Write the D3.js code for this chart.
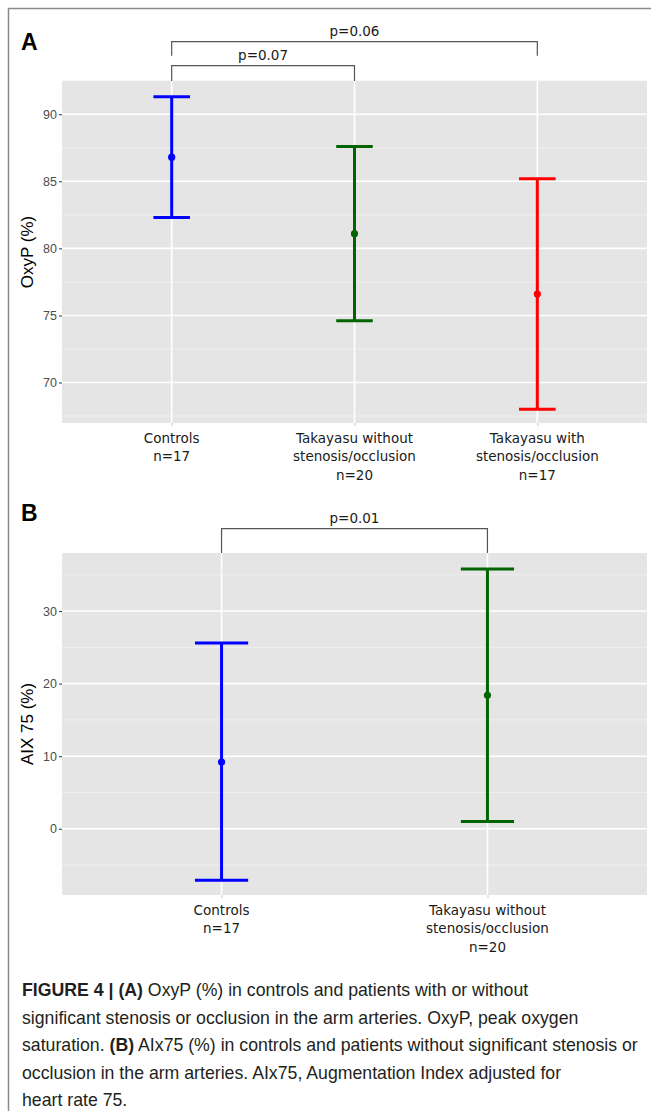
<!DOCTYPE html>
<html>
<head>
<meta charset="utf-8">
<script src="https://cdn.jsdelivr.net/npm/d3@7"></script>
<style>
  html, body { margin: 0; padding: 0; background: #fff; }
  svg { display: block; }
</style>
</head>
<body>
<svg id="chart" width="651" height="1111"></svg>
<script>
// ---------- data ----------
const groupsA = ["Controls", "Takayasu without", "Takayasu with"];
const labelsA = [["Controls", "n=17"], ["Takayasu without", "stenosis/occlusion", "n=20"], ["Takayasu with", "stenosis/occlusion", "n=17"]];
const meanA = [86.8, 81.1, 76.6];
const lowerA = [82.3, 74.6, 68.0];
const upperA = [91.3, 87.6, 85.2];
const colorsA = ["#0000ff", "#006400", "#ff0000"];
const ticksA = [70, 75, 80, 85, 90];
const minorA = [67.5, 72.5, 77.5, 82.5, 87.5, 92.5];

const groupsB = ["Controls", "Takayasu without"];
const labelsB = [["Controls", "n=17"], ["Takayasu without", "stenosis/occlusion", "n=20"]];
const meanB = [9.2, 18.4];
const lowerB = [-7.1, 1.0];
const upperB = [25.6, 35.8];
const colorsB = ["#0000ff", "#006400"];
const ticksB = [0, 10, 20, 30];
const minorB = [-5, 5, 15, 25, 35];

const pvalA = [
  { from: "Controls", to: "Takayasu with", label: "p=0.06", level: 1 },
  { from: "Controls", to: "Takayasu without", label: "p=0.07", level: 0 }
];
const pvalB = [
  { from: "Controls", to: "Takayasu without", label: "p=0.01", level: 0 }
];

const captionLines = [
  [["FIGURE 4 | (A)", true], [" OxyP (%) in controls and patients with or without", false]],
  [["significant stenosis or occlusion in the arm arteries. OxyP, peak oxygen", false]],
  [["saturation. ", false], ["(B)", true], [" AIx75 (%) in controls and patients without significant stenosis or", false]],
  [["occlusion in the arm arteries. AIx75, Augmentation Index adjusted for", false]],
  [["heart rate 75.", false]]
];

// ---------- drawing ----------
const svg = d3.select("#chart");
svg.append("rect").attr("width", 651).attr("height", 1111).attr("fill", "#fff");

svg.append("path").attr("d", "M8.5,1111 V8.5 H651")
  .attr("fill", "none").attr("stroke", "#8a8a8a").attr("stroke-width", 1.5);

function drawPanel(cfg) {
  const g = svg.append("g");
  const x = d3.scalePoint().domain(cfg.groups).range([cfg.left, cfg.right]).padding(0.6);
  const y = d3.scaleLinear().domain(cfg.domain).range([cfg.bottom, cfg.top]);
  const step = x.step();

  g.append("rect").attr("x", cfg.left).attr("y", cfg.top)
    .attr("width", cfg.right - cfg.left).attr("height", cfg.bottom - cfg.top)
    .attr("fill", "#e5e5e5");

  g.selectAll(".minor").data(cfg.minor).join("line")
    .attr("x1", cfg.left).attr("x2", cfg.right)
    .attr("y1", d => y(d)).attr("y2", d => y(d))
    .attr("stroke", "#f2f2f2").attr("stroke-width", 0.8);
  g.selectAll(".major").data(cfg.ticks).join("line")
    .attr("x1", cfg.left).attr("x2", cfg.right)
    .attr("y1", d => y(d)).attr("y2", d => y(d))
    .attr("stroke", "#ffffff").attr("stroke-width", 1.6);
  g.selectAll(".vmajor").data(cfg.groups).join("line")
    .attr("x1", d => x(d)).attr("x2", d => x(d))
    .attr("y1", cfg.top).attr("y2", cfg.bottom)
    .attr("stroke", "#ffffff").attr("stroke-width", 1.6);

  const yAxis = d3.axisLeft(y).tickValues(cfg.ticks).tickSize(3).tickPadding(2);
  const ya = g.append("g").attr("transform", `translate(${cfg.left},0)`).call(yAxis);
  ya.select(".domain").remove();
  ya.selectAll("line").attr("stroke", "#333").attr("stroke-width", 1);
  ya.selectAll("text").attr("font-family", "Liberation Sans, Arial, sans-serif")
    .attr("font-size", 12.5).attr("fill", "#4d4d4d");

  const xAxis = d3.axisBottom(x).tickSize(3).tickFormat("");
  const xa = g.append("g").attr("transform", `translate(0,${cfg.bottom})`).call(xAxis);
  xa.select(".domain").remove();
  xa.selectAll("line").attr("stroke", "#c8c8c8").attr("stroke-width", 1);

  cfg.groups.forEach((grp, i) => {
    const t = g.append("text")
      .attr("x", x(grp)).attr("y", cfg.bottom + 19.5)
      .attr("text-anchor", "middle")
      .attr("font-family", "DejaVu Sans, Verdana, sans-serif")
      .attr("font-size", 13.5).attr("fill", "#1a1a1a");
    cfg.labels[i].forEach((line, j) => {
      t.append("tspan").attr("x", x(grp)).attr("dy", j === 0 ? 0 : 18.5).text(line);
    });
  });

  g.append("text")
    .attr("transform", `translate(${cfg.titleX},${(cfg.top + cfg.bottom) / 2}) rotate(-90)`)
    .attr("text-anchor", "middle")
    .attr("font-family", "Liberation Sans, Arial, sans-serif")
    .attr("font-size", 17).attr("fill", "#000")
    .text(cfg.title);

  const capW = step * 0.1;
  const bars = g.selectAll(".eb").data(cfg.groups).join("g");
  bars.append("line")
    .attr("x1", d => x(d)).attr("x2", d => x(d))
    .attr("y1", (d, i) => y(cfg.lower[i])).attr("y2", (d, i) => y(cfg.upper[i]))
    .attr("stroke", (d, i) => cfg.colors[i]).attr("stroke-width", 3);
  bars.append("line")
    .attr("x1", d => x(d) - capW).attr("x2", d => x(d) + capW)
    .attr("y1", (d, i) => y(cfg.upper[i])).attr("y2", (d, i) => y(cfg.upper[i]))
    .attr("stroke", (d, i) => cfg.colors[i]).attr("stroke-width", 3);
  bars.append("line")
    .attr("x1", d => x(d) - capW).attr("x2", d => x(d) + capW)
    .attr("y1", (d, i) => y(cfg.lower[i])).attr("y2", (d, i) => y(cfg.lower[i]))
    .attr("stroke", (d, i) => cfg.colors[i]).attr("stroke-width", 3);
  bars.append("circle")
    .attr("cx", d => x(d)).attr("cy", (d, i) => y(cfg.mean[i])).attr("r", 3.6)
    .attr("fill", (d, i) => cfg.colors[i]);

  cfg.pvals.forEach(p => {
    const x1 = x(p.from), x2 = x(p.to);
    const yb = cfg.bracketY[p.level], yd = cfg.bracketBottom[p.level];
    g.append("path")
      .attr("d", `M${x1},${yd} V${yb} H${x2} V${yd}`)
      .attr("fill", "none").attr("stroke", "#555").attr("stroke-width", 1.2);
    g.append("text")
      .attr("x", (x1 + x2) / 2).attr("y", yb - 6)
      .attr("text-anchor", "middle")
      .attr("font-family", "DejaVu Sans, Verdana, sans-serif")
      .attr("font-size", 13.5).attr("fill", "#1a1a1a")
      .text(p.label);
  });

  svg.append("text").attr("x", 21).attr("y", cfg.letterY)
    .attr("font-family", "Liberation Sans, Arial, sans-serif")
    .attr("font-weight", "bold").attr("font-size", 23).attr("fill", "#000")
    .text(cfg.letter);
}

drawPanel({
  groups: groupsA, labels: labelsA, mean: meanA, lower: lowerA, upper: upperA,
  colors: colorsA, ticks: ticksA, minor: minorA, domain: [66.98, 92.48],
  left: 62, right: 647, top: 81, bottom: 423, titleX: 33, title: "OxyP (%)",
  pvals: pvalA, bracketY: [65.7, 41.7], bracketBottom: [81, 55.7],
  letter: "A", letterY: 50
});

drawPanel({
  groups: groupsB, labels: labelsB, mean: meanB, lower: lowerB, upper: upperB,
  colors: colorsB, ticks: ticksB, minor: minorB, domain: [-9.13, 38.0],
  left: 62, right: 647, top: 553, bottom: 895, titleX: 33, title: "AIX 75 (%)",
  pvals: pvalB, bracketY: [528.7], bracketBottom: [553],
  letter: "B", letterY: 521
});

// caption: uniformly condensed so the longest line fits the reference width
const cap = svg.append("g");
const texts = [];
captionLines.forEach((line, i) => {
  const t = cap.append("text").attr("x", 0).attr("y", 0)
    .attr("font-family", "Liberation Sans, Arial, sans-serif")
    .attr("font-size", 17.5).attr("fill", "#231f20");
  line.forEach(([s, b]) => {
    t.append("tspan").attr("font-weight", b ? "bold" : "normal").text(s);
  });
  texts.push(t);
});
const longest = d3.max(texts, t => t.node().getComputedTextLength());
const sx = 616 / longest;
texts.forEach((t, i) => {
  t.attr("transform", `translate(22,${996 + i * 27.5}) scale(${sx},1)`);
});
</script>
</body>
</html>
